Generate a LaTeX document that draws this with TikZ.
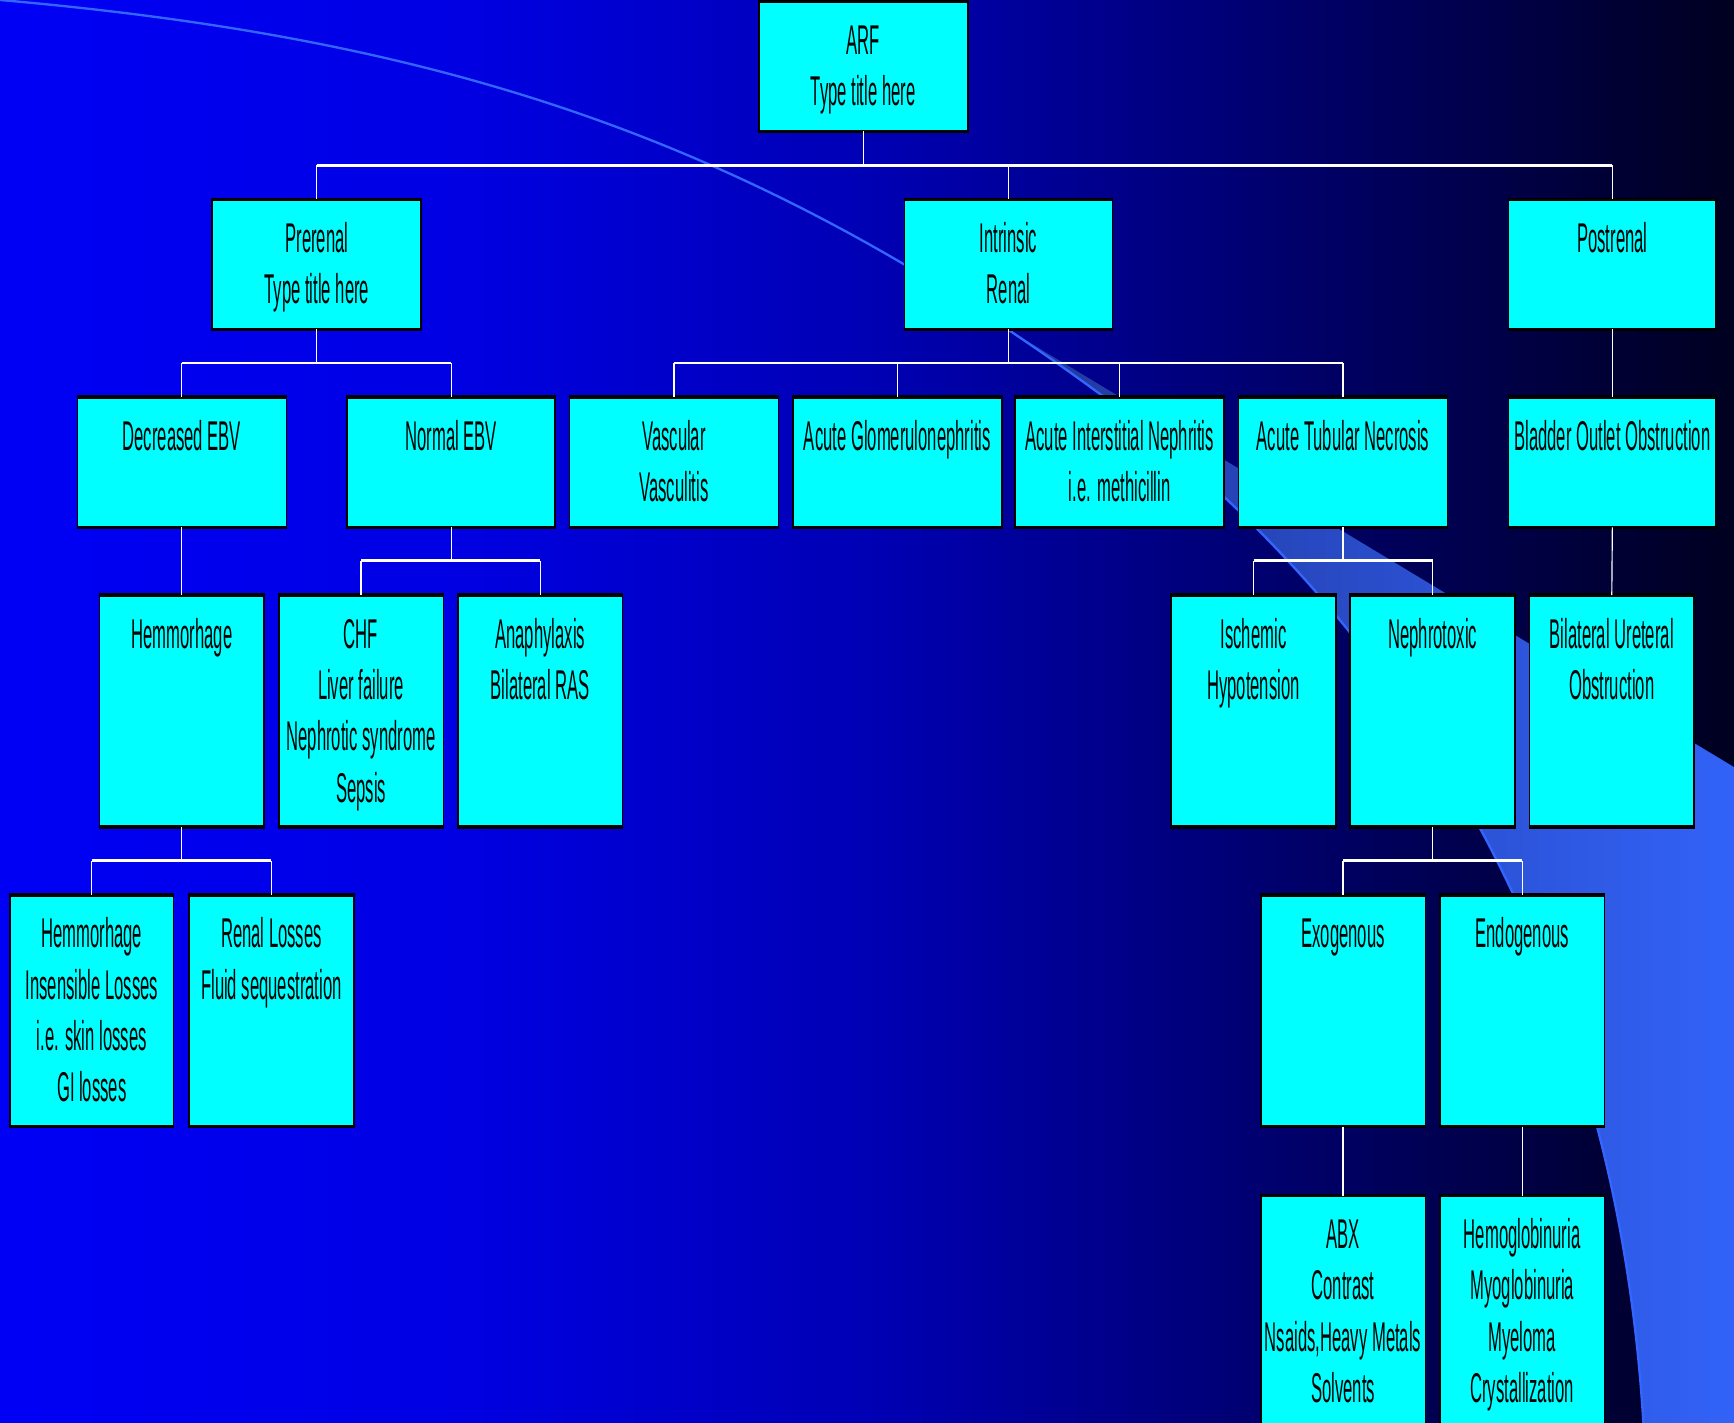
\documentclass[tikz,border=0pt]{standalone}
\usepackage{fontspec}
\newfontfamily\nfont[FakeStretch=0.40]{Liberation Sans}
\usetikzlibrary{calc}
\definecolor{boxc}{RGB}{0,255,255}
\definecolor{swl}{RGB}{32,52,150}
\definecolor{swm}{RGB}{46,88,222}
\definecolor{swr}{RGB}{51,102,255}
\definecolor{arcc}{RGB}{51,102,255}
\definecolor{bga}{RGB}{0,0,245}
\definecolor{bgb}{RGB}{0,0,228}
\definecolor{bgc}{RGB}{0,0,178}
\definecolor{bgd}{RGB}{0,0,100}
\definecolor{bge}{RGB}{0,0,32}
\pgfdeclarehorizontalshading{bgshade}{100bp}{color(0bp)=(bga); color(25bp)=(bga); color(37.8bp)=(bgb); color(50.5bp)=(bgc); color(63.3bp)=(bgd); color(75bp)=(bge); color(100bp)=(bge)}
\newlength\bxu \setlength\bxu{0.01cm}
\newcommand\bx[6]{\node[box] (#1) at ({(#2+#4)/2},{(#3+#5)/2}) {\parbox[c][\dimexpr\bxu*(#5-#3)\relax][t]{\dimexpr\bxu*(#4-#2)\relax}{\centering\rule{0pt}{13.4pt}#6\par}};}
\tikzset{
  box/.style={draw=black, fill=boxc, inner sep=0pt, line width=0.45pt, text=black,
    font=\nfont\fontsize{10.7}{13.2}\selectfont},
  boxedge/.style={draw=black, line width=0.9pt},
  conn/.style={draw=white, line width=0.3pt},
  hbar/.style={draw=white, line width=0.75pt},
  arcline/.style={draw=arcc, line width=0.6pt}
}
\begin{document}
\begin{tikzpicture}[x=0.01cm, y=-0.01cm]
\clip (0,0) rectangle (1568,1286);
\shade[shading=bgshade] (0,0) rectangle (1568,1286);
% swoosh
\begin{scope}
\clip (880,279) -- (1620,725) -- (1620,1340) -- (880,1340) -- cycle;
\clip (0,0) .. controls (400,35) and (680,125) .. (997,358) .. controls (1239,536) and (1459,836) .. (1486,1286) -- (1490,1340) -- (1620,1340) -- (1620,-20) -- (0,-20) -- cycle;
\shade[left color=swl, middle color=swm, right color=swr] (880,250) rectangle (1620,1340);
\end{scope}
\draw[arcline] (0,0) .. controls (400,35) and (680,125) .. (997,358) .. controls (1239,536) and (1459,836) .. (1486,1286) -- (1490,1340);
% boxes
\bx{arf}{686}{2}{875}{118}{ARF\\Type title here}
\bx{pre}{192}{181}{381}{297}{Prerenal\\Type title here}
\bx{intr}{818}{181}{1006}{297}{Intrinsic\\Renal}
\bx{post}{1364}{181}{1552}{297}{Postrenal}
\bx{debv}{70}{360}{259}{476}{Decreased EBV}
\bx{nebv}{314}{360}{502}{476}{Normal EBV}
\bx{vasc}{515}{360}{704}{476}{Vascular\\Vasculitis}
\bx{agn}{717}{360}{906}{476}{Acute Glomerulonephritis}
\bx{ain}{918}{360}{1107}{476}{Acute Interstitial Nephritis\\i.e. methicillin}
\bx{atn}{1120}{360}{1309}{476}{Acute Tubular Necrosis}
\bx{boo}{1364}{360}{1552}{476}{Bladder Outlet Obstruction}
\bx{hem}{90}{539}{239}{747}{Hemmorhage}
\bx{chf}{252}{539}{401}{747}{CHF\\Liver failure\\Nephrotic syndrome\\Sepsis}
\bx{ana}{414}{539}{563}{747}{Anaphylaxis\\Bilateral RAS}
\bx{isch}{1059}{539}{1208}{747}{Ischemic\\Hypotension}
\bx{neph}{1221}{539}{1370}{747}{Nephrotoxic}
\bx{buo}{1383}{539}{1532}{747}{Bilateral Ureteral\\Obstruction}
\bx{hemb}{9}{810}{157}{1018}{Hemmorhage\\Insensible Losses\\i.e. skin losses\\GI losses}
\bx{renal}{171}{810}{320}{1018}{Renal Losses\\Fluid sequestration}
\bx{exo}{1140}{810}{1289}{1018}{Exogenous}
\bx{endo}{1302}{810}{1451}{1018}{Endogenous}
\bx{abx}{1140}{1082}{1289}{1300}{ABX\\Contrast\\Nsaids,Heavy Metals\\Solvents}
\bx{hgb}{1302}{1082}{1451}{1300}{Hemoglobinuria\\Myoglobinuria\\Myeloma\\Crystallization}
\foreach \n in {arf,pre,intr,post,debv,nebv,vasc,agn,ain,atn,boo,hem,chf,ana,isch,neph,buo,hemb,renal,exo,endo,abx,hgb}
  \draw[boxedge] (\n.north west) -- (\n.north east) (\n.south west) -- (\n.south east);
% connectors
\foreach \p/\c in {arf/pre,arf/intr,arf/post,pre/debv,pre/nebv,intr/vasc,intr/agn,intr/ain,intr/atn,nebv/chf,nebv/ana,atn/isch,atn/neph,hem/hemb,hem/renal,neph/exo,neph/endo}
  \draw[conn] (\p.south) -- ++(0,31) -| (\c.north);
\foreach \p/\c in {post/boo,debv/hem,boo/buo,exo/abx,endo/hgb}
  \draw[conn] (\p.south) -- (\c.north);
\foreach \a/\b in {pre/post,debv/nebv,vasc/atn,chf/ana,isch/neph,hemb/renal,exo/endo}
  \draw[hbar] ([yshift=8.8pt]\a.north) -- ([yshift=8.8pt]\b.north);
\end{tikzpicture}
\end{document}
